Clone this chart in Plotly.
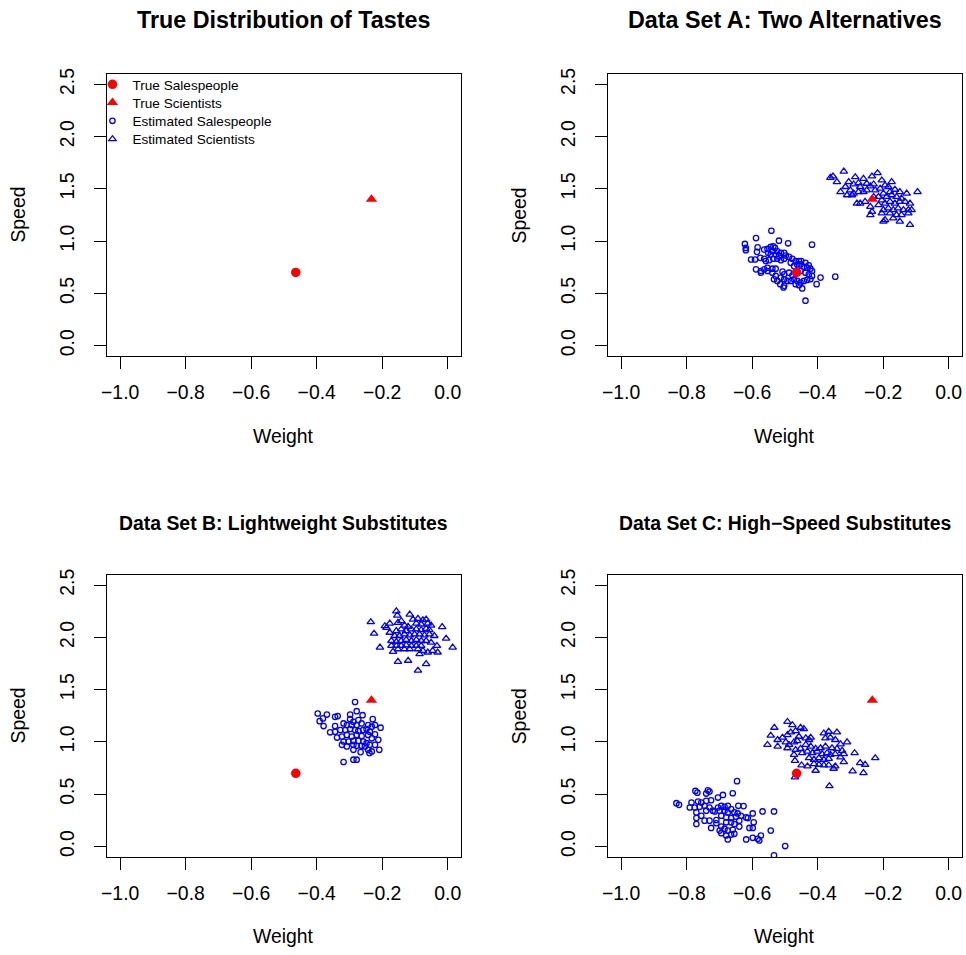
import plotly.graph_objects as go

# ---------------- data ----------------
TRUE_SALES = (-0.464, 0.70)   # (weight, speed)
TRUE_SCI = (-0.233, 1.40)

A_SALES_W = [-0.541, -0.588, -0.518, -0.490, -0.417, -0.622, -0.619, -0.619, -0.583, -0.563,
             -0.585, -0.553, -0.543, -0.535, -0.530, -0.538, -0.523, -0.512, -0.502, -0.551,
             -0.543, -0.528, -0.518, -0.497, -0.487, -0.603, -0.591, -0.575, -0.563, -0.558,
             -0.548, -0.535, -0.523, -0.512, -0.502, -0.477, -0.467, -0.457, -0.450, -0.437,
             -0.427, -0.482, -0.472, -0.462, -0.452, -0.442, -0.432, -0.422, -0.417, -0.588,
             -0.573, -0.563, -0.553, -0.538, -0.528, -0.507, -0.502, -0.487, -0.477, -0.467,
             -0.452, -0.437, -0.427, -0.417, -0.422, -0.391, -0.346, -0.538, -0.528, -0.533,
             -0.523, -0.512, -0.502, -0.492, -0.482, -0.472, -0.462, -0.452, -0.442, -0.432,
             -0.403, -0.514, -0.502, -0.504, -0.467, -0.457, -0.447, -0.437, -0.553, -0.573]
A_SALES_S = [1.099, 1.029, 1.004, 0.979, 0.966, 0.973, 0.935, 0.913, 0.941, 0.919,
             0.897, 0.925, 0.944, 0.951, 0.935, 0.903, 0.903, 0.888, 0.888, 0.888,
             0.872, 0.872, 0.856, 0.862, 0.850, 0.824, 0.824, 0.840, 0.831, 0.809,
             0.818, 0.831, 0.831, 0.818, 0.831, 0.831, 0.809, 0.809, 0.809, 0.793,
             0.768, 0.793, 0.761, 0.777, 0.777, 0.755, 0.745, 0.736, 0.714, 0.730,
             0.714, 0.730, 0.745, 0.736, 0.736, 0.708, 0.683, 0.698, 0.673, 0.698,
             0.714, 0.698, 0.683, 0.667, 0.635, 0.651, 0.660, 0.698, 0.667, 0.635,
             0.619, 0.651, 0.635, 0.619, 0.619, 0.635, 0.619, 0.604, 0.619, 0.629,
             0.588, 0.588, 0.572, 0.556, 0.588, 0.578, 0.547, 0.430, 0.714, 0.698]

A_SCI_W = [-0.320, -0.353, -0.341, -0.285, -0.260, -0.234, -0.217, -0.204, -0.174, -0.361,
           -0.305, -0.290, -0.275, -0.250, -0.239, -0.229, -0.270, -0.315, -0.330, -0.300,
           -0.290, -0.275, -0.260, -0.250, -0.224, -0.209, -0.194, -0.184, -0.179, -0.164,
           -0.149, -0.128, -0.095, -0.310, -0.295, -0.270, -0.255, -0.280, -0.199, -0.189,
           -0.174, -0.159, -0.144, -0.204, -0.194, -0.179, -0.164, -0.149, -0.133, -0.118,
           -0.214, -0.199, -0.184, -0.169, -0.154, -0.138, -0.123, -0.113, -0.239, -0.234,
           -0.239, -0.204, -0.179, -0.159, -0.144, -0.123, -0.194, -0.199, -0.169, -0.149,
           -0.118, -0.229, -0.214]
A_SCI_S = [1.667, 1.620, 1.566, 1.613, 1.597, 1.620, 1.651, 1.582, 1.566, 1.607,
           1.566, 1.544, 1.556, 1.550, 1.525, 1.544, 1.519, 1.519, 1.471, 1.487,
           1.456, 1.471, 1.471, 1.487, 1.487, 1.503, 1.534, 1.519, 1.471, 1.493,
           1.471, 1.456, 1.471, 1.440, 1.440, 1.361, 1.377, 1.361, 1.456, 1.424,
           1.440, 1.424, 1.408, 1.392, 1.361, 1.377, 1.361, 1.377, 1.377, 1.361,
           1.345, 1.298, 1.314, 1.298, 1.314, 1.298, 1.298, 1.298, 1.329, 1.282,
           1.250, 1.266, 1.266, 1.250, 1.250, 1.266, 1.203, 1.187, 1.219, 1.187,
           1.156, 1.424, 1.424]

B_SALES_W = [-0.283, -0.397, -0.369, -0.381, -0.391, -0.344, -0.336, -0.298, -0.278, -0.260,
             -0.298, -0.288, -0.273, -0.229, -0.222, -0.205, -0.379, -0.344, -0.318, -0.308,
             -0.293, -0.278, -0.263, -0.243, -0.232, -0.359, -0.344, -0.328, -0.313, -0.298,
             -0.283, -0.273, -0.258, -0.248, -0.238, -0.222, -0.212, -0.338, -0.323, -0.308,
             -0.293, -0.278, -0.263, -0.243, -0.232, -0.318, -0.303, -0.288, -0.273, -0.258,
             -0.248, -0.238, -0.222, -0.209, -0.323, -0.308, -0.288, -0.278, -0.263, -0.253,
             -0.243, -0.232, -0.288, -0.266, -0.239, -0.318, -0.288, -0.278]
B_SALES_S = [1.382, 1.272, 1.262, 1.225, 1.199, 1.240, 1.247, 1.262, 1.294, 1.256,
             1.218, 1.193, 1.209, 1.218, 1.162, 1.136, 1.152, 1.152, 1.177, 1.162,
             1.162, 1.162, 1.177, 1.162, 1.146, 1.092, 1.098, 1.114, 1.114, 1.124,
             1.114, 1.105, 1.114, 1.124, 1.098, 1.073, 1.020, 1.042, 1.051, 1.067,
             1.051, 1.067, 1.057, 1.067, 1.035, 1.004, 1.004, 1.010, 1.010, 1.004,
             0.988, 0.972, 0.972, 0.925, 0.972, 0.957, 0.972, 0.963, 0.963, 0.957,
             0.925, 0.909, 0.925, 0.903, 0.893, 0.808, 0.830, 0.830]

B_SCI_W = [-0.157, -0.154, -0.116, -0.235, -0.192, -0.177, -0.187, -0.152, -0.142, -0.132,
           -0.121, -0.106, -0.091, -0.076, -0.066, -0.061, -0.051, -0.096, -0.081, -0.017,
           -0.225, -0.177, -0.157, -0.142, -0.127, -0.111, -0.096, -0.081, -0.066, -0.056,
           -0.041, -0.005, -0.162, -0.147, -0.132, -0.116, -0.101, -0.086, -0.071, -0.056,
           -0.172, -0.157, -0.142, -0.127, -0.111, -0.096, -0.081, -0.066, -0.051, -0.207,
           -0.172, -0.157, -0.142, -0.127, -0.111, -0.096, -0.081, -0.033, 0.015, -0.167,
           -0.152, -0.132, -0.116, -0.091, -0.076, -0.061, -0.046, -0.031, -0.086, -0.152,
           -0.121, -0.066, -0.091]
B_SCI_S = [2.251, 2.210, 2.220, 2.147, 2.109, 2.134, 2.093, 2.141, 2.157, 2.115,
           2.103, 2.172, 2.179, 2.166, 2.172, 2.134, 2.115, 2.134, 2.125, 2.100,
           2.037, 2.046, 2.062, 2.078, 2.062, 2.078, 2.078, 2.071, 2.084, 2.071,
           2.015, 1.989, 2.015, 2.015, 2.030, 2.021, 2.030, 2.030, 2.021, 2.030,
           1.967, 1.958, 1.967, 1.977, 1.967, 1.977, 1.967, 1.967, 1.951, 1.904,
           1.920, 1.920, 1.920, 1.926, 1.920, 1.920, 1.920, 1.920, 1.904, 1.863,
           1.888, 1.888, 1.888, 1.888, 1.873, 1.857, 1.873, 1.857, 1.841, 1.768,
           1.778, 1.746, 1.683]

C_SALES_W = [-0.646, -0.773, -0.767, -0.735, -0.740, -0.730, -0.689, -0.704, -0.659, -0.831,
             -0.823, -0.785, -0.765, -0.755, -0.740, -0.725, -0.790, -0.775, -0.760, -0.745,
             -0.730, -0.720, -0.704, -0.694, -0.684, -0.674, -0.642, -0.626, -0.568, -0.533,
             -0.770, -0.755, -0.740, -0.714, -0.699, -0.684, -0.674, -0.664, -0.654, -0.644,
             -0.770, -0.745, -0.730, -0.709, -0.694, -0.679, -0.664, -0.649, -0.634, -0.613,
             -0.598, -0.770, -0.725, -0.709, -0.694, -0.679, -0.664, -0.654, -0.639, -0.618,
             -0.595, -0.699, -0.684, -0.674, -0.659, -0.639, -0.608, -0.598, -0.543, -0.694,
             -0.679, -0.664, -0.654, -0.674, -0.618, -0.598, -0.583, -0.573, -0.578, -0.533,
             -0.499]
C_SALES_S = [0.625, 0.531, 0.515, 0.537, 0.506, 0.525, 0.493, 0.468, 0.509, 0.414,
             0.398, 0.420, 0.430, 0.420, 0.436, 0.442, 0.373, 0.373, 0.379, 0.389,
             0.373, 0.342, 0.373, 0.389, 0.379, 0.389, 0.389, 0.386, 0.335, 0.335,
             0.326, 0.294, 0.342, 0.335, 0.342, 0.342, 0.326, 0.357, 0.326, 0.316,
             0.272, 0.247, 0.247, 0.253, 0.294, 0.278, 0.272, 0.285, 0.294, 0.272,
             0.316, 0.215, 0.177, 0.222, 0.190, 0.231, 0.231, 0.215, 0.247, 0.278,
             0.231, 0.152, 0.168, 0.152, 0.159, 0.190, 0.177, 0.177, 0.152, 0.127,
             0.105, 0.114, 0.121, 0.067, 0.067, 0.083, 0.073, 0.105, 0.058, -0.084,
             0.004]

C_SCI_W = [-0.492, -0.477, -0.532, -0.452, -0.442, -0.543, -0.553, -0.522, -0.507, -0.492,
           -0.482, -0.467, -0.457, -0.497, -0.522, -0.487, -0.472, -0.462, -0.436, -0.426,
           -0.421, -0.381, -0.366, -0.341, -0.376, -0.361, -0.346, -0.330, -0.310, -0.467,
           -0.452, -0.492, -0.436, -0.421, -0.406, -0.391, -0.376, -0.356, -0.341, -0.325,
           -0.287, -0.472, -0.447, -0.431, -0.416, -0.401, -0.386, -0.371, -0.361, -0.346,
           -0.330, -0.320, -0.469, -0.426, -0.411, -0.396, -0.381, -0.366, -0.320, -0.270,
           -0.255, -0.224, -0.449, -0.431, -0.411, -0.396, -0.381, -0.366, -0.346, -0.406,
           -0.351, -0.293, -0.260, -0.469, -0.364]
C_SCI_S = [1.193, 1.162, 1.137, 1.137, 1.124, 1.061, 0.973, 1.020, 1.042, 1.067,
           1.092, 1.105, 1.051, 0.998, 0.957, 0.973, 0.998, 1.010, 1.036, 1.020,
           1.042, 1.083, 1.099, 1.092, 1.036, 1.042, 1.020, 0.979, 0.998, 0.925,
           0.935, 0.941, 0.973, 0.957, 0.935, 0.941, 0.957, 0.941, 0.935, 0.916,
           0.894, 0.878, 0.894, 0.909, 0.894, 0.909, 0.884, 0.894, 0.878, 0.884,
           0.853, 0.884, 0.821, 0.846, 0.831, 0.846, 0.831, 0.840, 0.808, 0.799,
           0.783, 0.846, 0.777, 0.767, 0.790, 0.783, 0.777, 0.777, 0.767, 0.726,
           0.745, 0.720, 0.704, 0.663, 0.578]

TITLES = ["True Distribution of Tastes", "Data Set A: Two Alternatives",
          "Data Set B: Lightweight Substitutes", "Data Set C: High\u2212Speed Substitutes"]
X_TICKS = [-1.0, -0.8, -0.6, -0.4, -0.2, 0.0]
Y_TICKS = [0.0, 0.5, 1.0, 1.5, 2.0, 2.5]
X_LABEL = "Weight"
Y_LABEL = "Speed"
LEGEND_NAMES = ["True Salespeople", "True Scientists", "Estimated Salespeople", "Estimated Scientists"]

ESTIMATES = [None, (A_SALES_W, A_SALES_S, A_SCI_W, A_SCI_S),
             (B_SALES_W, B_SALES_S, B_SCI_W, B_SCI_S),
             (C_SALES_W, C_SALES_S, C_SCI_W, C_SCI_S)]

# ---------------- layout geometry (pixels of the 966x955 page) ----------------
W, H = 966, 955
FONT = "Liberation Sans, Arial, Helvetica, sans-serif"
BOX_X = [(101.7, 457.7), (605.7, 961.7)]
BOX_Y = [(68.3, 352.3), (572.3, 856.3)]
TICK_FS = 19.4
BLUE = "#0000FF"
RED = "#FF0000"

fig = go.Figure()

def ax_suffix(i):
    return "" if i == 0 else str(i + 1)

layout = dict(width=W, height=H, margin=dict(l=0, r=0, t=0, b=0),
              paper_bgcolor="white", plot_bgcolor="white",
              font=dict(family=FONT, color="black", size=TICK_FS),
              showlegend=True, annotations=[])

for i in range(4):
    col, row = i % 2, i // 2
    x0, x1 = BOX_X[col]
    y0, y1 = BOX_Y[row]
    s = ax_suffix(i)
    xa, ya = "x" + s, "y" + s
    common = dict(showline=True, linecolor="black", linewidth=1, mirror=True,
                  ticks="outside", ticklen=12, tickwidth=1, tickcolor="black",
                  showgrid=False, zeroline=False, tickformat=".1f",
                  tickfont=dict(family=FONT, size=TICK_FS, color="black"))
    layout["xaxis" + s] = dict(common, domain=[x0 / W, x1 / W], range=[-1.04, 0.04],
                               tickvals=X_TICKS, anchor=ya, ticklabelstandoff=7)
    layout["yaxis" + s] = dict(common, domain=[1 - y1 / H, 1 - y0 / H], range=[-0.1, 2.6],
                               tickvals=Y_TICKS, anchor=xa, tickangle=-90, ticklabelstandoff=12)

    est = ESTIMATES[i]
    if est is not None:
        sw, ss, cw, cs = est
        fig.add_trace(go.Scatter(x=sw, y=ss, mode="markers", xaxis=xa, yaxis=ya,
                                 name=LEGEND_NAMES[2], showlegend=(i == 1), legend="legend3",
                                 marker=dict(symbol="circle-open", size=5.4, color=BLUE,
                                             line=dict(width=1.3, color=BLUE))))
        fig.add_trace(go.Scatter(x=cw, y=cs, mode="markers", xaxis=xa, yaxis=ya,
                                 name=LEGEND_NAMES[3], showlegend=(i == 1), legend="legend4",
                                 marker=dict(symbol="triangle-up-open", size=6.6, color=BLUE,
                                             line=dict(width=1.3, color=BLUE))))
    fig.add_trace(go.Scatter(x=[TRUE_SALES[0]], y=[TRUE_SALES[1]], mode="markers",
                             xaxis=xa, yaxis=ya, name=LEGEND_NAMES[0], showlegend=(i == 0),
                             legend="legend",
                             marker=dict(symbol="circle", size=9.5, color=RED)))
    fig.add_trace(go.Scatter(x=[TRUE_SCI[0]], y=[TRUE_SCI[1]], mode="markers",
                             xaxis=xa, yaxis=ya, name=LEGEND_NAMES[1], showlegend=(i == 0),
                             legend="legend2",
                             marker=dict(symbol="triangle-up", size=10, color=RED)))

    cx = (x0 + x1) / 2
    cy = (y0 + y1) / 2
    # subplot title
    title_fs = 23.3 if row == 0 else 19.4
    title_y = 14 if row == 0 else 520
    layout["annotations"].append(dict(text="<b>" + TITLES[i] + "</b>", xref="paper", yref="paper",
                                      x=cx / W, y=1 - title_y / H, xanchor="center", yanchor="middle",
                                      showarrow=False, font=dict(family=FONT, size=title_fs, color="black")))
    # axis titles
    layout["annotations"].append(dict(text=X_LABEL, xref="paper", yref="paper",
                                      x=cx / W, y=1 - (y1 + 80) / H, xanchor="center", yanchor="middle",
                                      showarrow=False, font=dict(family=FONT, size=TICK_FS, color="black")))
    layout["annotations"].append(dict(text=Y_LABEL, xref="paper", yref="paper",
                                      x=(x0 - 90) / W, y=1 - cy / H, xanchor="center", yanchor="middle",
                                      textangle=-90, showarrow=False,
                                      font=dict(family=FONT, size=TICK_FS, color="black")))

# four single-entry legends stacked inside the first panel
LEG_ROWS = [79, 97.3, 115.7, 134]
for k, key in enumerate(["legend", "legend2", "legend3", "legend4"]):
    layout[key] = dict(x=87 / W, y=1 - LEG_ROWS[k] / H, xanchor="left", yanchor="middle",
                       bgcolor="rgba(0,0,0,0)", borderwidth=0,
                       font=dict(family=FONT, size=13.6, color="black"))

fig.update_layout(**layout)
fig.write_html("out.html", config={"displayModeBar": False},
               post_script="document.body.style.margin='0';document.body.style.overflow='hidden';")
